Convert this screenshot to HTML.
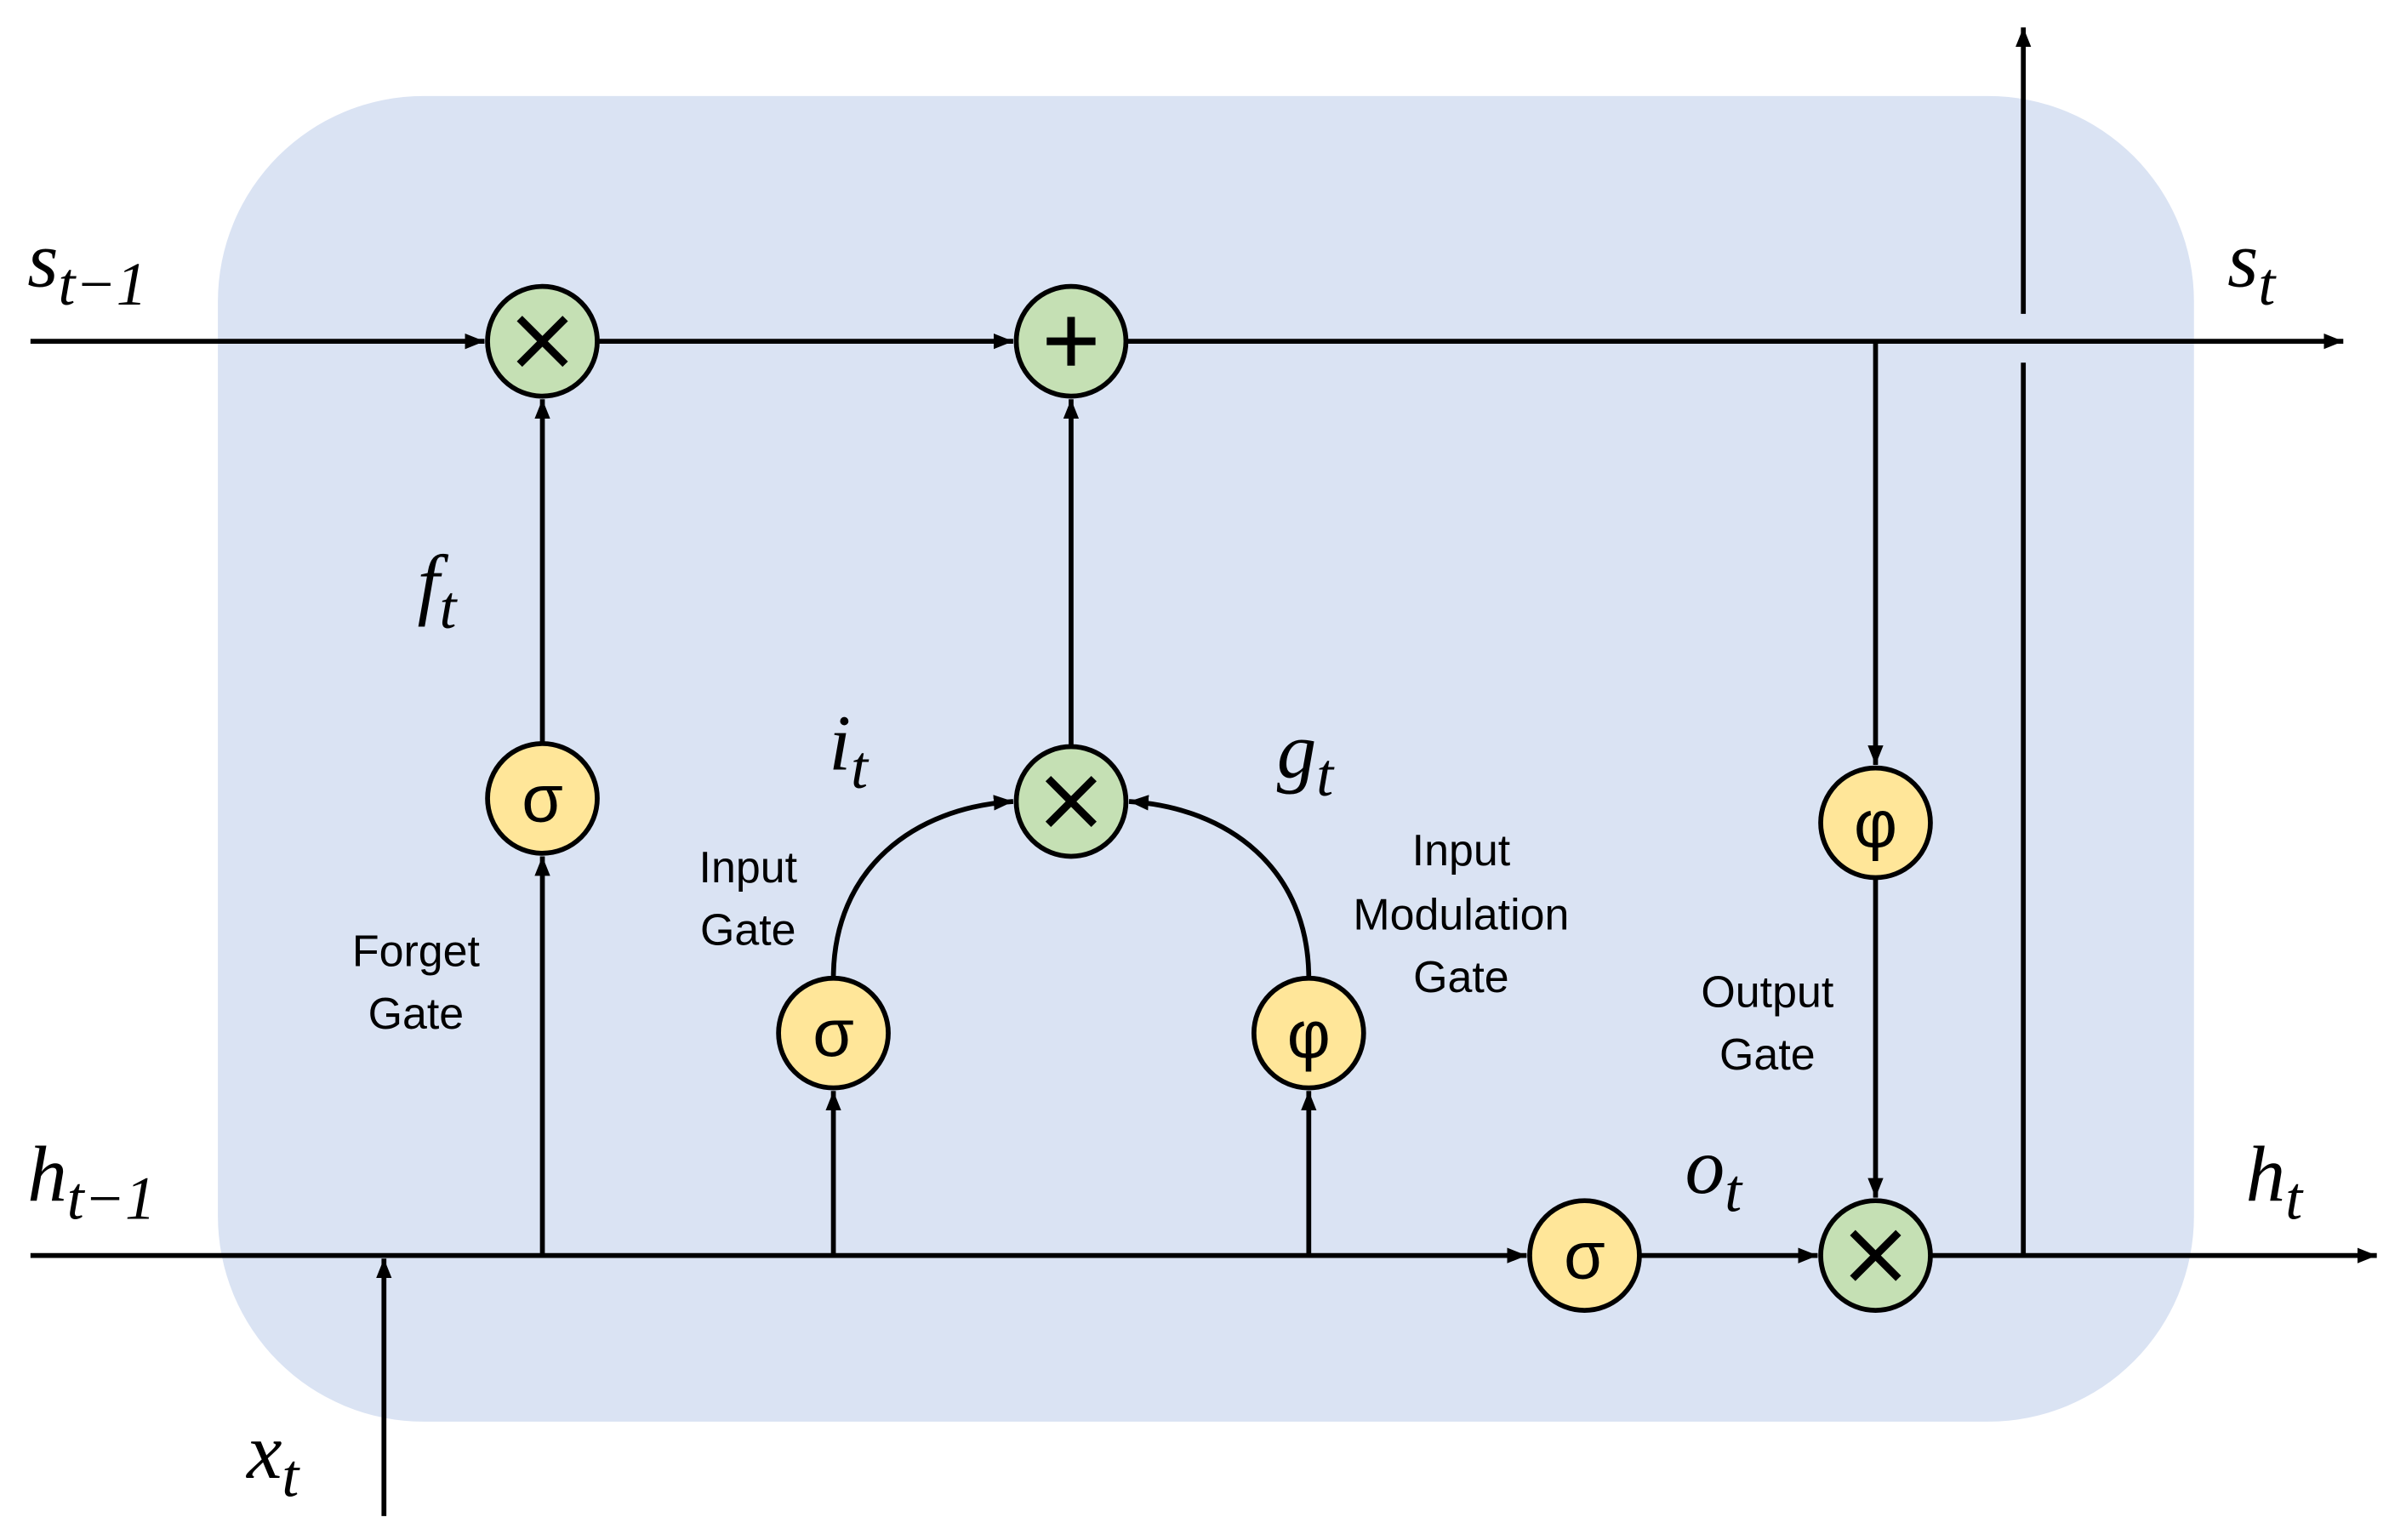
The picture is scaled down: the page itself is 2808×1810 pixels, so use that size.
<!DOCTYPE html>
<html><head><meta charset="utf-8"><style>html,body{margin:0;padding:0;background:#fff}svg{display:block}</style></head><body>
<svg width="2808" height="1810" viewBox="0 0 1568 1010.7" preserveAspectRatio="none" xmlns="http://www.w3.org/2000/svg">
<defs><marker id="a" viewBox="0 0 10 10" refX="10" refY="5" markerWidth="4" markerHeight="4" orient="auto" markerUnits="strokeWidth"><path d="M0,1 L10,5 L0,9 z" fill="#000"/></marker></defs>
<rect x="143" y="63" width="1297" height="870" rx="135" fill="#dae3f3"/>
<g stroke="#000" stroke-width="3.2" fill="none">
<line x1="20" y1="224" x2="318" y2="224" marker-end="url(#a)"/>
<line x1="392" y1="224" x2="665" y2="224" marker-end="url(#a)"/>
<line x1="739" y1="224" x2="1538" y2="224" marker-end="url(#a)"/>
<line x1="20" y1="824" x2="1002" y2="824" marker-end="url(#a)"/>
<line x1="1076" y1="824" x2="1193" y2="824" marker-end="url(#a)"/>
<line x1="1267" y1="824" x2="1560" y2="824" marker-end="url(#a)"/>
<line x1="356" y1="824" x2="356" y2="562" marker-end="url(#a)"/>
<line x1="356" y1="488" x2="356" y2="262" marker-end="url(#a)"/>
<line x1="703" y1="490" x2="703" y2="262" marker-end="url(#a)"/>
<line x1="547" y1="824" x2="547" y2="716" marker-end="url(#a)"/>
<line x1="859" y1="824" x2="859" y2="716" marker-end="url(#a)"/>
<path d="M547,642 C547,570 600,530 665,526" marker-end="url(#a)"/>
<path d="M859,642 C859,570 806,530 741,526" marker-end="url(#a)"/>
<line x1="1231" y1="224" x2="1231" y2="502" marker-end="url(#a)"/>
<line x1="1231" y1="576" x2="1231" y2="786" marker-end="url(#a)"/>
<line x1="1328" y1="824" x2="1328" y2="238"/>
<line x1="1328" y1="206" x2="1328" y2="18" marker-end="url(#a)"/>
<line x1="252" y1="995" x2="252" y2="826" marker-end="url(#a)"/>
</g>
<g stroke="#000" stroke-width="3.2">
<circle cx="356" cy="224" r="36" fill="#c5e0b4"/>
<circle cx="703" cy="224" r="36" fill="#c5e0b4"/>
<circle cx="703" cy="526" r="36" fill="#c5e0b4"/>
<circle cx="1231" cy="824" r="36" fill="#c5e0b4"/>
<circle cx="356" cy="524" r="36" fill="#ffe699"/>
<circle cx="547" cy="678" r="36" fill="#ffe699"/>
<circle cx="859" cy="678" r="36" fill="#ffe699"/>
<circle cx="1231" cy="540" r="36" fill="#ffe699"/>
<circle cx="1040" cy="824" r="36" fill="#ffe699"/>
</g>
<g stroke="#000" stroke-width="5">
<path d="M341,209 L371,239 M371,209 L341,239"/>
<path d="M688,511 L718,541 M718,511 L688,541"/>
<path d="M1216,809 L1246,839 M1246,809 L1216,839"/>
<path d="M703,208 L703,240 M687,224 L719,224"/>
</g>
<g font-family="Liberation Sans, DejaVu Sans, sans-serif" font-size="44" text-anchor="middle">
<text x="356" y="539">σ</text><text x="547" y="693">σ</text><text x="1040" y="839">σ</text>
<text x="859" y="694">φ</text><text x="1231" y="556">φ</text>
</g>
<g font-family="Liberation Sans, sans-serif" font-size="29" text-anchor="middle" fill="#000">
<text x="273" y="634">Forget</text><text x="273" y="675">Gate</text>
<text x="491" y="579">Input</text><text x="491" y="620">Gate</text>
<text x="959" y="568">Input</text><text x="959" y="610">Modulation</text><text x="959" y="651">Gate</text>
<text x="1160" y="661">Output</text><text x="1160" y="702">Gate</text>
</g>
<g font-family="Liberation Serif, DejaVu Serif, serif" font-style="italic" font-size="52" fill="#000">
<text x="18" y="188">s<tspan font-size="40" dy="12">t−1</tspan></text>
<text x="1462" y="188">s<tspan font-size="40" dy="12">t</tspan></text>
<text x="18" y="788">h<tspan font-size="40" dy="12">t−1</tspan></text>
<text x="1474" y="788">h<tspan font-size="40" dy="12">t</tspan></text>
<text x="274" y="400">f<tspan font-size="40" dy="12">t</tspan></text>
<text x="544" y="505">i<tspan font-size="40" dy="12">t</tspan></text>
<text x="838" y="510">g<tspan font-size="40" dy="12">t</tspan></text>
<text x="1106" y="783">o<tspan font-size="40" dy="12">t</tspan></text>
<text x="162" y="970">x<tspan font-size="40" dy="12">t</tspan></text>
</g>
</svg>
</body></html>
